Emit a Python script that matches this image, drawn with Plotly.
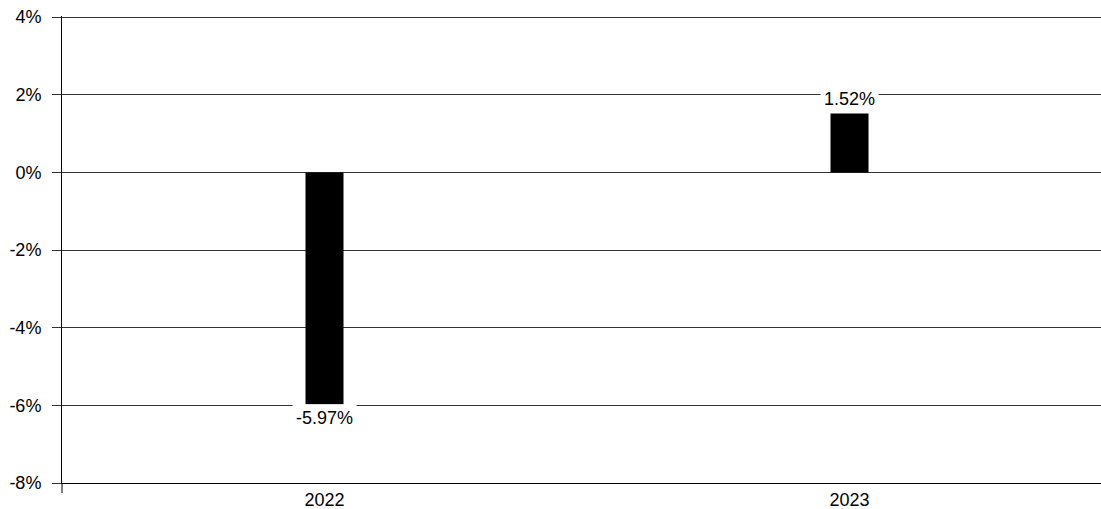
import plotly.graph_objects as go

categories = ["2022", "2023"]
values = [-5.97, 1.52]
y_ticks = [-8, -6, -4, -2, 0, 2, 4]
y_tick_labels = [f"{t}%" for t in y_ticks]

FONT = "Liberation Sans, Arial, sans-serif"

fig = go.Figure()
fig.add_trace(go.Bar(
    x=categories, y=values, width=0.0724,
    marker=dict(color="#000000", line=dict(width=0)),
    hoverinfo="skip",
))

for i, v in enumerate(values):
    fig.add_annotation(
        x=i, y=v, xref="x", yref="y", text=f"{v:.2f}%", showarrow=False,
        yanchor="top" if v < 0 else "bottom",
        xanchor="center",
        bgcolor="#ffffff", borderpad=3,
        font=dict(family=FONT, size=18, color="#000000"),
    )

fig.add_shape(type="line", xref="paper", yref="paper",
              x0=0, x1=0, ysizemode="pixel", yanchor=0, y0=0, y1=-10,
              line=dict(color="#000000", width=1))

fig.update_layout(
    width=1101, height=509,
    margin=dict(l=62, r=0, t=16, b=26, pad=0),
    paper_bgcolor="#ffffff", plot_bgcolor="#ffffff",
    showlegend=False,
    font=dict(family=FONT, size=18, color="#000000"),
    xaxis=dict(type="category", range=[-0.5, 1.479], showgrid=False,
               showline=True, linecolor="#000000", linewidth=1,
               ticks="", ticklabelstandoff=0, automargin=False,
               tickfont=dict(family=FONT, size=18)),
    yaxis=dict(range=[-8, 4.03], tickvals=y_ticks, ticktext=y_tick_labels,
               showgrid=True, gridcolor="#333333", gridwidth=1,
               zeroline=True, zerolinecolor="#333333", zerolinewidth=1,
               showline=True, linecolor="#000000", linewidth=1,
               ticks="outside", ticklen=9, tickcolor="#333333",
               ticklabelstandoff=7, automargin=False,
               tickfont=dict(family=FONT, size=18)),
)

fig.write_html("out.html",
               config={"displayModeBar": False, "staticPlot": True},
               post_script="document.body.style.margin='0';document.body.style.overflow='hidden';")
